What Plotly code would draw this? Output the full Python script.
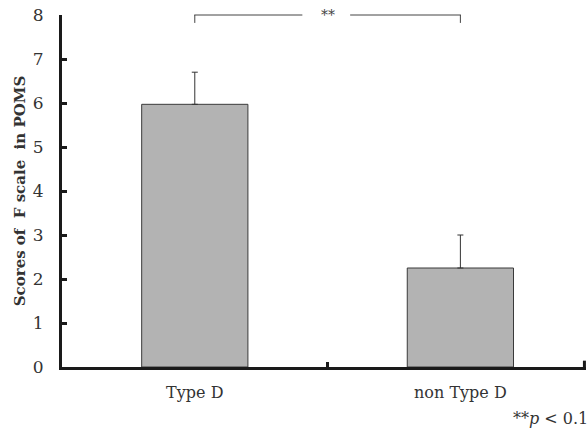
import plotly.graph_objects as go

categories = ["Type D", "non Type D"]
means = [5.97, 2.25]
sd_upper = [0.73, 0.75]
y_ticks = [0, 1, 2, 3, 4, 5, 6, 7, 8]
y_max = 8
bracket_level = 8.0
bracket_drop = 7.82
sig_label = "**"
footnote = "**<i>p</i> < 0.1"

FONT = "DejaVu Serif"
TXT = "#333333"
AX = "#1a1a1a"

fig = go.Figure()
fig.add_trace(go.Bar(
    x=categories, y=means, width=0.4,
    marker=dict(color="#b3b3b3", line=dict(color="#3a3a3a", width=1)),
    error_y=dict(type="data", array=sd_upper, arrayminus=[0, 0], symmetric=False,
                 color="#333333", thickness=1, width=3),
    showlegend=False,
))

shapes = []
pb = bracket_level / y_max
pd_ = bracket_drop / y_max
shapes.append(dict(type="line", xref="x", yref="paper", x0=-0.002, x1=0.405, y0=pb, y1=pb,
                   line=dict(color="#444", width=1)))
shapes.append(dict(type="line", xref="x", yref="paper", x0=0.585, x1=1.002, y0=pb, y1=pb,
                   line=dict(color="#444", width=1)))
shapes.append(dict(type="line", xref="x", yref="paper", x0=0, x1=0, y0=pb, y1=pd_,
                   line=dict(color="#444", width=1)))
shapes.append(dict(type="line", xref="x", yref="paper", x0=1, x1=1, y0=pb, y1=pd_,
                   line=dict(color="#444", width=1)))
shapes.append(dict(type="line", xref="paper", yref="paper", x0=0.997, x1=0.997, y0=0, y1=0.018,
                   line=dict(color=AX, width=3)))

fig.update_layout(
    width=588, height=432,
    margin=dict(l=62, r=2, t=15, b=65),
    plot_bgcolor="white", paper_bgcolor="white",
    font=dict(family=FONT, color=TXT, size=14),
    shapes=shapes,
    annotations=[
        dict(x=0.5, y=pb, xref="x", yref="paper", text=sig_label, showarrow=False,
             font=dict(family=FONT, size=14, color="#444"), yanchor="middle"),
        dict(x=1.0, y=0.0, xref="paper", yref="paper", text=footnote, showarrow=False,
             xanchor="right", yanchor="bottom", yshift=-63, xshift=4,
             font=dict(family=FONT, size=16, color=TXT)),
    ],
    xaxis=dict(
        type="category", range=[-0.5, 1.473],
        showline=True, linecolor=AX, linewidth=3,
        ticks="inside", tickson="boundaries", ticklen=5, tickwidth=3, tickcolor=AX,
        tickfont=dict(family=FONT, size=16, color=TXT), ticklabelstandoff=9,
        showgrid=False, zeroline=False,
    ),
    yaxis=dict(
        range=[0, y_max], tickvals=y_ticks,
        showline=True, linecolor=AX, linewidth=3,
        ticks="inside", ticklen=5, tickwidth=3, tickcolor=AX,
        tickfont=dict(family=FONT, size=17, color=TXT), ticklabelstandoff=12,
        showgrid=False, zeroline=False,
        title=dict(text="<b>Scores of\u00a0\u00a0F scale\u00a0\u00a0in POMS</b>",
                   font=dict(family=FONT, size=15, color=TXT), standoff=4),
    ),
)

fig.write_html("out.html")
